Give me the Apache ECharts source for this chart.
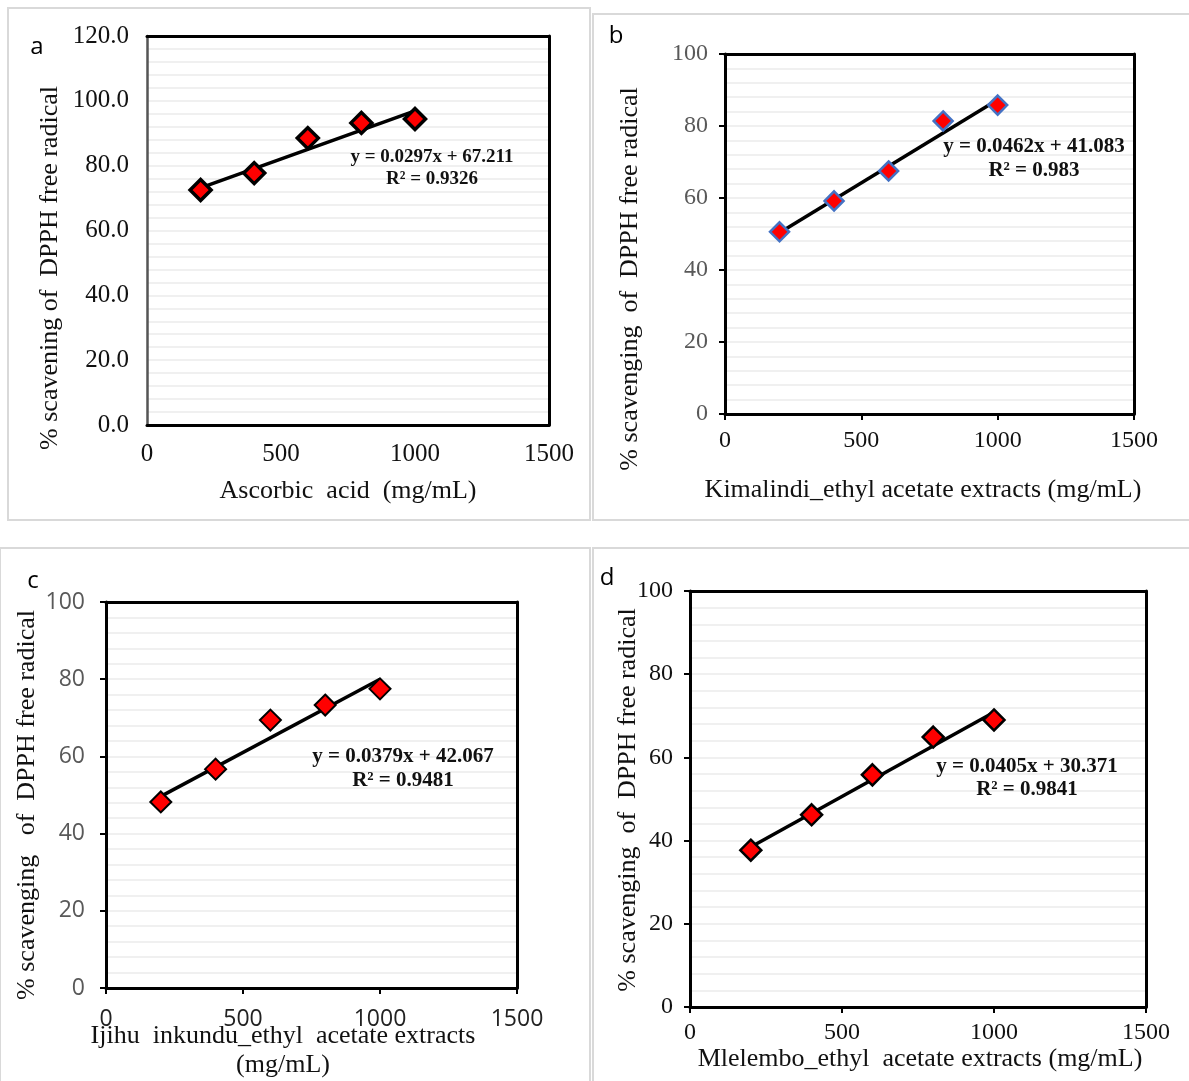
<!DOCTYPE html>
<html><head><meta charset="utf-8">
<script src="https://cdn.jsdelivr.net/npm/echarts@6/dist/echarts.min.js"></script>
<style>html,body{margin:0;padding:0;background:#fff}#c{width:1189px;height:1081px}</style>
</head><body><div id="c"></div>
<script>
// ---- data ----
const concentrations = [200, 400, 600, 800, 1000];
const ascorbicAcid = [72.5, 77.7, 88.5, 93.2, 94.4];
const kimalindi = [50.6, 59.2, 67.5, 81.4, 85.8];
const ijihuInkundu = [48.2, 56.7, 69.4, 73.3, 77.5];
const mlelembo = [37.7, 46.2, 55.8, 64.9, 69.0];
const slopes = [0.0297, 0.0462, 0.0379, 0.0405];
const intercepts = [67.211, 41.083, 42.067, 30.371];
const equations = ['y = 0.0297x + 67.211', 'y = 0.0462x + 41.083', 'y = 0.0379x + 42.067', 'y = 0.0405x + 30.371'];
const rSquared = ['R² = 0.9326', 'R² = 0.983', 'R² = 0.9481', 'R² = 0.9841'];
const xTicks = [0, 500, 1000, 1500];
const yMaxes = [120, 100, 100, 100];
const panelLetters = ['a', 'b', 'c', 'd'];
const xTitles = ['Ascorbic  acid  (mg/mL)', 'Kimalindi_ethyl acetate extracts (mg/mL)', 'Ijihu  inkundu_ethyl  acetate extracts\n(mg/mL)', 'Mlelembo_ethyl  acetate extracts (mg/mL)'];
const yTitles = ['% scavening of  DPPH free radical', '% scavenging  of  DPPH free radical', '% scavenging   of  DPPH free radical', '% scavenging  of  DPPH free radical'];

const seriesValues = [ascorbicAcid, kimalindi, ijihuInkundu, mlelembo];

// ---- layout ----
const grids = [
  {left: 147, top: 36, width: 402, height: 389},
  {left: 725, top: 54, width: 409, height: 360},
  {left: 106, top: 602, width: 411, height: 386},
  {left: 690, top: 591, width: 456, height: 416}
];
const serif = '"Liberation Serif", "Times New Roman", serif';
const sans = '"Open Sans", "Liberation Sans", sans-serif';
const panelStyle = [
  {font: serif, size: 25, color: '#111', yDec: 1, ticks: false, markerBorder: '#000', markerBW: 3.5, markerSize: 21, yLineColor: '#555', yLineW: 2.5, xMargin: 17, yMargin: 18},
  {font: serif, size: 24, color: '#595959', xColor: '#111', yDec: 0, ticks: true, markerBorder: '#4472C4', markerBW: 2.5, markerSize: 19, yLineColor: '#000', yLineW: 3, xMargin: 15, yMargin: 17},
  {font: sans, size: 23, color: '#595959', xColor: '#222', yDec: 0, ticks: true, markerBorder: '#000', markerBW: 2, markerSize: 21, yLineColor: '#000', yLineW: 3, xMargin: 20, yMargin: 21},
  {font: serif, size: 24, color: '#111', yDec: 0, ticks: true, markerBorder: '#000', markerBW: 2.5, markerSize: 21, yLineColor: '#000', yLineW: 3, xMargin: 14, yMargin: 17}
];
const eqPos = [[432, 157, 179, 19], [1034, 147, 171, 21], [403, 757, 781, 21], [1027, 767, 790, 21]];
const yTitlePos = [[50, 268], [630, 279], [27, 805], [628, 800]];
const xTitlePos = [[348, 491], [923, 490], [283, 1051], [920, 1059]];
const letterPos = [[37, 47], [616, 36], [33, 581], [607, 578]];
const frames = [[8, 8, 582, 512], [593, 14, 600, 506], [0, 548, 590, 540], [593, 548, 600, 540]];

const gridLine = {color: '#f0f0f0', width: 2};

const option = {
  animation: false,
  grid: grids.map(g => Object.assign({show: true, borderWidth: 0, backgroundColor: '#fff'}, g)),
  xAxis: [],
  yAxis: [],
  series: [],
  graphic: []
};

grids.forEach((g, i) => {
  const st = panelStyle[i];
  option.xAxis.push({
    type: 'value', gridIndex: i, min: 0, max: 1500, interval: 500, position: 'bottom',
    axisLine: {show: true, onZero: false, lineStyle: {color: '#000', width: 3}},
    axisTick: {show: st.ticks, length: 6, lineStyle: {color: '#000', width: 2}},
    axisLabel: {fontFamily: st.font, fontSize: st.size, color: st.xColor || st.color, margin: st.xMargin,
      formatter: v => String(v)},
    splitLine: {show: false}
  });
  option.yAxis.push({
    type: 'value', gridIndex: i, min: 0, max: yMaxes[i], interval: 20, position: 'left',
    axisLine: {show: true, onZero: false, lineStyle: {color: st.yLineColor, width: st.yLineW}},
    axisTick: {show: st.ticks, length: 6, lineStyle: {color: '#000', width: 2}},
    axisLabel: {fontFamily: st.font, fontSize: st.size, color: st.color, margin: st.yMargin,
      formatter: v => v.toFixed(st.yDec)},
    splitLine: {show: true, lineStyle: gridLine},
    minorTick: {show: false, splitNumber: 5},
    minorSplitLine: {show: true, lineStyle: gridLine}
  });
});
// frame axes (top / right edges of each plot box)
grids.forEach((g, i) => {
  option.xAxis.push({
    type: 'value', gridIndex: i, min: 0, max: 1500, position: 'top',
    axisLine: {show: true, onZero: false, lineStyle: {color: '#000', width: 3}},
    axisTick: {show: false}, axisLabel: {show: false}, splitLine: {show: false}
  });
  option.yAxis.push({
    type: 'value', gridIndex: i, min: 0, max: yMaxes[i], position: 'right',
    axisLine: {show: true, onZero: false, lineStyle: {color: '#000', width: 3}},
    axisTick: {show: false}, axisLabel: {show: false}, splitLine: {show: false}
  });
});

seriesValues.forEach((vals, i) => {
  const st = panelStyle[i];
  option.series.push({
    type: 'line', xAxisIndex: i, yAxisIndex: i, symbol: 'none', z: 3,
    lineStyle: {color: '#000', width: 3.5},
    data: [200, 1000].map(x => [x, slopes[i] * x + intercepts[i]])
  });
  option.series.push({
    type: 'scatter', xAxisIndex: i, yAxisIndex: i, symbol: 'diamond', symbolSize: st.markerSize, z: 4,
    itemStyle: {color: '#ff0000', borderColor: st.markerBorder, borderWidth: st.markerBW, opacity: 1},
    data: concentrations.map((x, k) => [x, vals[k]])
  });
});

const G = option.graphic;
frames.forEach(f => G.push({type: 'rect', shape: {x: f[0], y: f[1], width: f[2], height: f[3]},
  style: {fill: 'none', stroke: '#d9d9d9', lineWidth: 2}, z: -10}));
for (let i = 0; i < 4; i++) {
  const e = eqPos[i];
  G.push({type: 'text', x: e[0], y: e[1], z: 100, style: {text: equations[i], font: `bold ${e[3]}px ${serif}`, fill: '#111', textAlign: 'center', textVerticalAlign: 'middle'}});
  G.push({type: 'text', x: e[0], y: e[2], z: 100, style: {text: rSquared[i], font: `bold ${e[3]}px ${serif}`, fill: '#111', textAlign: 'center', textVerticalAlign: 'middle'}});
  G.push({type: 'text', x: yTitlePos[i][0], y: yTitlePos[i][1], rotation: Math.PI / 2, z: 100,
    style: {text: yTitles[i], font: `26px ${serif}`, fill: '#111', textAlign: 'center', textVerticalAlign: 'middle'}});
  G.push({type: 'text', x: xTitlePos[i][0], y: xTitlePos[i][1], z: 100,
    style: {text: xTitles[i], font: `26px ${serif}`, fill: '#111', textAlign: 'center', textVerticalAlign: 'middle', lineHeight: 29}});
  G.push({type: 'text', x: letterPos[i][0], y: letterPos[i][1], z: 100,
    style: {text: panelLetters[i], font: `24px ${sans}`, fill: '#000', textAlign: 'center', textVerticalAlign: 'middle'}});
}

const chart = echarts.init(document.getElementById('c'), null, {renderer: 'canvas'});
chart.setOption(option);
</script></body></html>
